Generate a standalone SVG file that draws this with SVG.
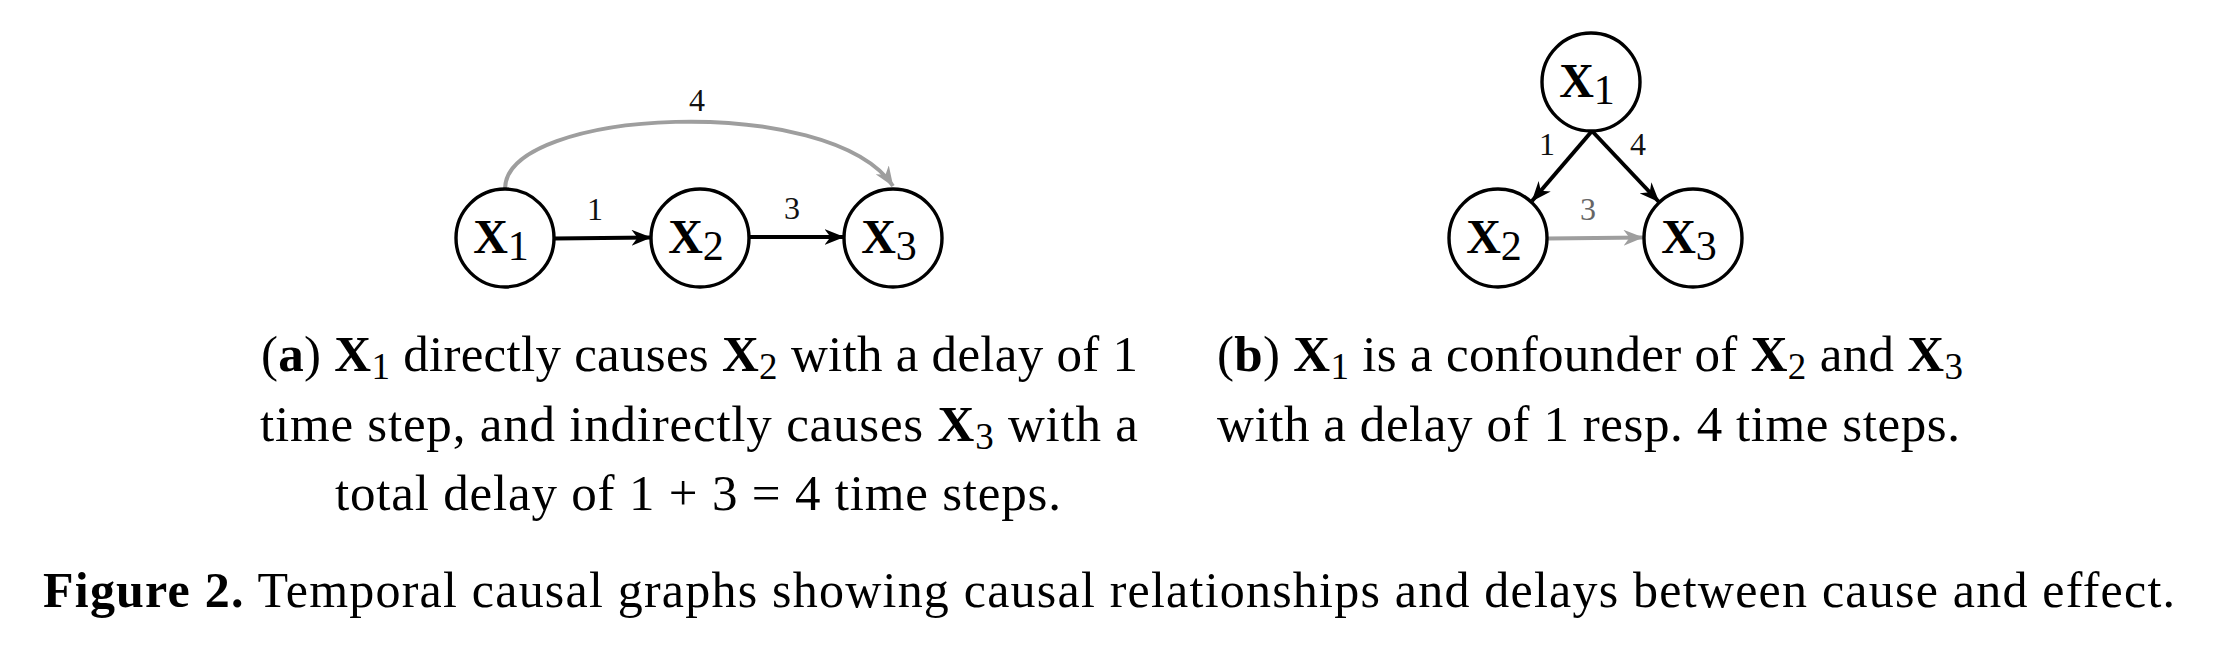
<svg xmlns="http://www.w3.org/2000/svg" width="2214" height="660" viewBox="0 0 2214 660">
<style>
  .node circle { fill: #fff; stroke: #000; stroke-width: 3.4; }
  .nl { font-family: "Liberation Serif", "DejaVu Serif", serif; font-size: 48px; fill: #000; text-anchor: middle; }
  .nl .v { font-weight: bold; }
  .nl .s { font-size: 42px; }
  .el { font-family: "Liberation Serif", "DejaVu Serif", serif; font-size: 32px; fill: #111; text-anchor: middle; }
  .edge { fill: none; stroke-width: 4; }
  .blk { stroke: #000; }
  .gry { stroke: #9e9e9e; }
  .cap { font-family: "Liberation Serif", "DejaVu Serif", serif; font-size: 51px; fill: #000; }
  .cap .b { font-weight: bold; }
  .cap .s { font-size: 37px; }
  .fig { font-family: "Liberation Serif", "DejaVu Serif", serif; font-size: 50px; fill: #000; }
</style>
<defs>
  <marker id="ab" viewBox="0 0 20 16" refX="19.5" refY="8" markerWidth="20" markerHeight="16" markerUnits="userSpaceOnUse" orient="auto">
    <path d="M0,0 L20,8 L0,16 L6,8 z" fill="#000"/>
  </marker>
  <marker id="ag" viewBox="0 0 20 16" refX="19.5" refY="8" markerWidth="20" markerHeight="16" markerUnits="userSpaceOnUse" orient="auto">
    <path d="M0,0 L20,8 L0,16 L6,8 z" fill="#9e9e9e"/>
  </marker>
</defs>
<rect width="2214" height="660" fill="#fff"/>

<g id="connectors">
  <path class="edge gry" d="M505,189 C505,108 830,92 893,186" marker-end="url(#ag)"/>
  <path class="edge blk" d="M554,238.5 L651,237.5" marker-end="url(#ab)"/>
  <path class="edge blk" d="M749,237 L844,237" marker-end="url(#ab)"/>
  <path class="edge blk" d="M1592,131 L1532,201" marker-end="url(#ab)"/>
  <path class="edge blk" d="M1592,131 L1659,202" marker-end="url(#ab)"/>
  <path class="edge gry" d="M1548,238.5 L1643,237.5" marker-end="url(#ag)"/>
  <text class="el" x="697" y="111" fill="#333">4</text>
  <text class="el" x="595" y="220">1</text>
  <text class="el" x="792" y="219">3</text>
  <text class="el" x="1547" y="155">1</text>
  <text class="el" x="1638" y="155">4</text>
  <text class="el" x="1588" y="220" style="fill:#666">3</text>
</g>

<g id="a-x1" class="node"><circle cx="505" cy="238" r="49"/><text class="nl" x="501" y="253"><tspan class="v">X</tspan><tspan class="s" dy="7">1</tspan></text></g>
<g id="a-x2" class="node"><circle cx="700" cy="238" r="49"/><text class="nl" x="696" y="253"><tspan class="v">X</tspan><tspan class="s" dy="7">2</tspan></text></g>
<g id="a-x3" class="node"><circle cx="893" cy="238" r="49"/><text class="nl" x="889" y="253"><tspan class="v">X</tspan><tspan class="s" dy="7">3</tspan></text></g>

<g id="b-x1" class="node"><circle cx="1591" cy="82" r="49"/><text class="nl" x="1587" y="97"><tspan class="v">X</tspan><tspan class="s" dy="7">1</tspan></text></g>
<g id="b-x2" class="node"><circle cx="1498" cy="238" r="49"/><text class="nl" x="1494" y="253"><tspan class="v">X</tspan><tspan class="s" dy="7">2</tspan></text></g>
<g id="b-x3" class="node"><circle cx="1693" cy="238" r="49"/><text class="nl" x="1689" y="253"><tspan class="v">X</tspan><tspan class="s" dy="7">3</tspan></text></g>

<g id="caption-a">
  <text class="cap" x="261" y="371" textLength="877" lengthAdjust="spacing">(<tspan class="b">a</tspan>) <tspan class="b">X</tspan><tspan class="s" dy="8">1</tspan><tspan dy="-8"> directly causes </tspan><tspan class="b">X</tspan><tspan class="s" dy="8">2</tspan><tspan dy="-8"> with a delay of 1</tspan></text>
  <text class="cap" x="260" y="441" textLength="878" lengthAdjust="spacing">time step, and indirectly causes <tspan class="b">X</tspan><tspan class="s" dy="8">3</tspan><tspan dy="-8"> with a</tspan></text>
  <text class="cap" x="335" y="510" textLength="726" lengthAdjust="spacing">total delay of 1 + 3 = 4 time steps.</text>
</g>

<g id="caption-b">
  <text class="cap" x="1217" y="371" textLength="746" lengthAdjust="spacing">(<tspan class="b">b</tspan>) <tspan class="b">X</tspan><tspan class="s" dy="8">1</tspan><tspan dy="-8"> is a confounder of </tspan><tspan class="b">X</tspan><tspan class="s" dy="8">2</tspan><tspan dy="-8"> and </tspan><tspan class="b">X</tspan><tspan class="s" dy="8">3</tspan></text>
  <text class="cap" x="1217" y="441" textLength="743" lengthAdjust="spacing">with a delay of 1 resp. 4 time steps.</text>
</g>

<g id="figure-caption">
  <text class="fig" x="43" y="607" textLength="2132" lengthAdjust="spacing"><tspan font-weight="bold">Figure 2.</tspan> Temporal causal graphs showing causal relationships and delays between cause and effect.</text>
</g>
</svg>
